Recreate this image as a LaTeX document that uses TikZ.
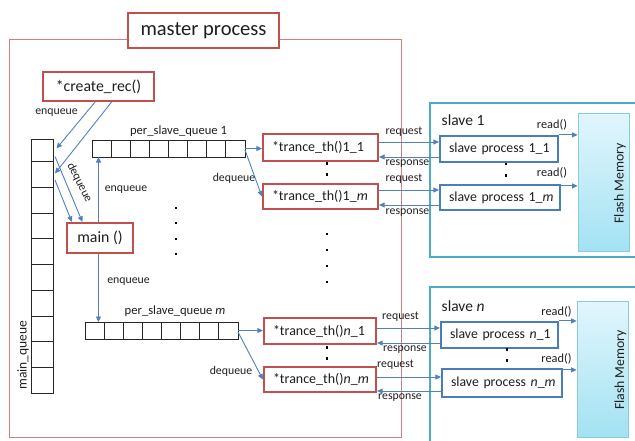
\documentclass[tikz,border=0pt]{standalone}
\usepackage{fontspec}
\setmainfont{Carlito}
\usetikzlibrary{calc,arrows.meta,shadows}
\definecolor{redbox}{HTML}{C0504D}
\definecolor{masterline}{HTML}{D47F7D}
\definecolor{arrblue}{HTML}{4F81BD}
\definecolor{slavecyan}{HTML}{4BACC6}
\definecolor{procblue}{HTML}{4A7EBB}
\definecolor{flashtop}{HTML}{E2F6FC}
\definecolor{flashbot}{HTML}{A3E2F3}
\definecolor{flashline}{HTML}{86CBDF}
\definecolor{txt}{HTML}{1E1E1E}
\newcommand{\fsz}[1]{\fontsize{#1}{#1}\selectfont}
\begin{document}
\begin{tikzpicture}[x=1pt,y=-1pt,
  redb/.style={draw=redbox, line width=2.2pt, fill=white, inner sep=0pt, text=txt},
  trance/.style={redb, text width=115pt, align=left, execute at begin node={\hspace*{9pt}}, font=\fsz{14}},
  proc/.style={draw=procblue, line width=2.2pt, fill=white, inner sep=0pt, align=left, execute at begin node={\hspace*{9pt}}, font=\fsz{13.8}, text=txt},
  slavebox/.style={draw=slavecyan, line width=2.6pt, minimum width=220pt, inner sep=0pt},
  flash/.style={draw=flashline, line width=0.8pt, top color=flashtop, bottom color=flashbot, minimum width=51pt, inner sep=0pt, drop shadow={opacity=0.25, shadow xshift=1.2pt, shadow yshift=-1.2pt}},
  queue/.style={draw=black!85, line width=0.8pt, inner sep=0pt, outer sep=0pt},
  qline/.style={draw=black!85, line width=0.8pt},
  arr/.style={draw=arrblue, line width=0.9pt, -{Triangle[length=5.5pt,width=5pt]}},
  lbl/.style={font=\fsz{11.8}, text=txt, inner sep=0pt},
  rlbl/.style={font=\fsz{12.3}, text=txt, inner sep=0pt},
]
\useasboundingbox (0,0) rectangle (635,440);
\clip (0,0) rectangle (635,440);

% master process
\node[draw=masterline, line width=1pt, minimum width=392pt, minimum height=398pt, inner sep=0pt] (master) at (205,238) {};
\node[redb, minimum width=151pt, minimum height=35pt, font=\fsz{20.5}] (title) at (203.5,30.5) {master process};
\node[redb, minimum width=111pt, minimum height=29pt, font=\fsz{15.8}] (cr) at (98.5,86.5) {*create\_rec()};
\node[redb, minimum width=66pt, minimum height=30pt, font=\fsz{15.8}] (main) at (100,238) {main ()};

% queues
\node[queue, minimum width=22pt, minimum height=254.25pt] (mq) at (42,266.1) {};
\foreach \d in {22.5,48.25,74,99.75,125.5,151.25,177,202.75,228.5}
  \draw[qline] ($(mq.north west)+(0,\d)$) -- ($(mq.north east)+(0,\d)$);
\node[queue, minimum width=153pt, minimum height=17pt] (q1) at (168.5,148.5) {};
\foreach \i in {1,...,7}
  \draw[qline] ($(q1.north west)+(\i*19.125,0)$) -- ($(q1.south west)+(\i*19.125,0)$);
\node[queue, minimum width=153pt, minimum height=17pt] (qm) at (161.5,330.5) {};
\foreach \i in {1,...,7}
  \draw[qline] ($(qm.north west)+(\i*19.125,0)$) -- ($(qm.south west)+(\i*19.125,0)$);

\node[rlbl, font=\fsz{12.6}] (psq1) at (178.5,131.5) {per\_slave\_queue 1};
\node[rlbl, font=\fsz{12.6}] (psqm) at (175,311.5) {per\_slave\_queue \textit{m}};
\node[lbl, rotate=90, font=\fsz{13.5}] (mql) at (23,355) {main\_queue};

% trance threads
\node[trance, minimum height=27pt] (t11) at (320.5,147.5) {*trance\_th()1\_1};
\node[trance, minimum height=25pt] (t1m) at (320.5,196.5) {*trance\_th()1\_\textit{m}};
\node[trance, text width=112pt, minimum height=26pt] (tn1) at (320,331) {*trance\_th()\textit{n}\_1};
\node[trance, text width=112pt, minimum height=25pt] (tnm) at (320,379.5) {*trance\_th()\textit{n}\_\textit{m}};

% slaves
\node[slavebox, minimum height=154pt] (slave1) at (540,180) {};
\node[slavebox, minimum height=183pt] (slaven) at (540,378.5) {};
\node[font=\fsz{15.5}, text=txt, inner sep=0pt, anchor=west] (sl1) at (441.5,120) {slave 1};
\node[font=\fsz{15.5}, text=txt, inner sep=0pt, anchor=west] (sln) at (441.5,306.5) {slave \textit{n}};

\node[proc, text width=118pt, minimum height=26pt] (s11) at (499,149) {slave process 1\_1};
\node[proc, text width=120pt, minimum height=25pt] (s1m) at (500,197.5) {slave process 1\_\textit{m}};
\node[proc, text width=117pt, minimum height=26pt] (sn1) at (499.5,335) {slave process \textit{n}\_1};
\node[proc, text width=120pt, minimum height=28pt] (snm) at (502,383) {slave process \textit{n}\_\textit{m}};

\node[flash, minimum height=138pt] (fl1) at (603.5,182) {};
\node[flash, minimum height=136pt] (fln) at (602.5,369) {};
\node[rotate=90, font=\fsz{13.8}, text=txt, inner sep=0pt] (fl1t) at (620,183.5) {Flash Memory};
\node[rotate=90, font=\fsz{13.8}, text=txt, inner sep=0pt] (flnt) at (620.5,370) {Flash Memory};

% create_rec -> main_queue
\draw[arr] ($(cr.south)+(-3.5,0)$) -- ($(mq.north east)+(3.5,9.5)$);
\draw[arr] ($(cr.south)+(13,0)$) -- ($(mq.north east)+(2,34.5)$);
\node[lbl] (enq1) at (56.5,113) {enqueue};
% main_queue -> main
\draw[arr] ($(mq.north east)+(2,17.5)$) -- ($(main.north west)+(16.5,0)$);
\draw[arr] ($(mq.north east)+(2,41)$) -- ($(main.north west)+(6,0)$);
\node[lbl, rotate=-63] (deq0) at (79.5,182.5) {dequeue};
% main -> queues
\draw[arr] ([xshift=-1.5pt]main.north) -- ([xshift=-1.5pt]main.north |- q1.south);
\node[lbl] (enq2) at (126,190) {enqueue};
\draw[arr] ([xshift=-1.5pt]main.south) -- ([xshift=-1.5pt]main.south |- qm.north);
\node[lbl] (enq3) at (128.5,281.5) {enqueue};
% queues -> trance
\draw[arr] (q1.east) -- (q1.east -| t11.west);
\draw[arr] ($(q1.east)+(0,1.5)$) -- (t1m.west);
\node[lbl] (deq1) at (234,178) {dequeue};
\draw[arr] (qm.east) -- (qm.east -| tn1.west);
\draw[arr] ($(qm.east)+(0,1.5)$) -- (tnm.west);
\node[lbl] (deq2) at (231,371) {dequeue};

% request / response
\draw[arr] ([yshift=5.5pt]t11.east) -- ([yshift=5.5pt]t11.east -| s11.west);
\draw[arr] ([yshift=-8pt]s11.west) -- ([yshift=-8pt]s11.west -| t11.east);
\draw[arr] ([yshift=6.5pt]t1m.east) -- ([yshift=6.5pt]t1m.east -| s1m.west);
\draw[arr] ([yshift=-7.5pt]s1m.west) -- ([yshift=-7.5pt]s1m.west -| t1m.east);
\draw[arr] ([yshift=3pt]tn1.east) -- ([yshift=3pt]tn1.east -| sn1.west);
\draw[arr] ([yshift=-8pt]sn1.west) -- ([yshift=-8pt]sn1.west -| tn1.east);
\draw[arr] ([yshift=2.5pt]tnm.east) -- ([yshift=2.5pt]tnm.east -| snm.west);
\draw[arr] ([yshift=-8pt]snm.west) -- ([yshift=-8pt]snm.west -| tnm.east);
\node[lbl] (rq1) at (404,132) {request};
\node[lbl] (rs1) at (407.5,164) {response};
\node[lbl] (rq1m) at (404,179) {request};
\node[lbl] (rs1m) at (407.5,213) {response};
\node[lbl] (rqn1) at (400.5,317) {request};
\node[lbl] (rsn1) at (405,350) {response};
\node[lbl] (rqnm) at (395.5,365) {request};
\node[lbl] (rsnm) at (400,398) {response};

% read()
\draw[arr] (s11.north east) -- (s11.north east -| fl1.west);
\draw[arr] ([yshift=-2pt]s1m.north east) -- ([yshift=-2pt]s1m.north east -| fl1.west);
\draw[arr] (sn1.north east) -- (sn1.north east -| fln.west);
\draw[arr] ([yshift=-2pt]snm.north east) -- ([yshift=-2pt]snm.north east -| fln.west);
\node[rlbl] (rd1) at (552,125) {read()};
\node[rlbl] (rd1m) at (552,173) {read()};
\node[rlbl] (rdn1) at (556.5,312) {read()};
\node[rlbl] (rdnm) at (556.5,358.5) {read()};

% dots
\foreach \x/\y in {176/208,176/223,176/239,176/254,327/234,327/250,327/266,327/282,
                   327/163.5,327/174.5,327/347.5,327/358.5,506/164,506/175.5,507/349.5,507/360.5}
  \fill[black] (\x,\y) +(-1.4,-1.4) rectangle +(1.4,1.4);
\end{tikzpicture}
\end{document}
